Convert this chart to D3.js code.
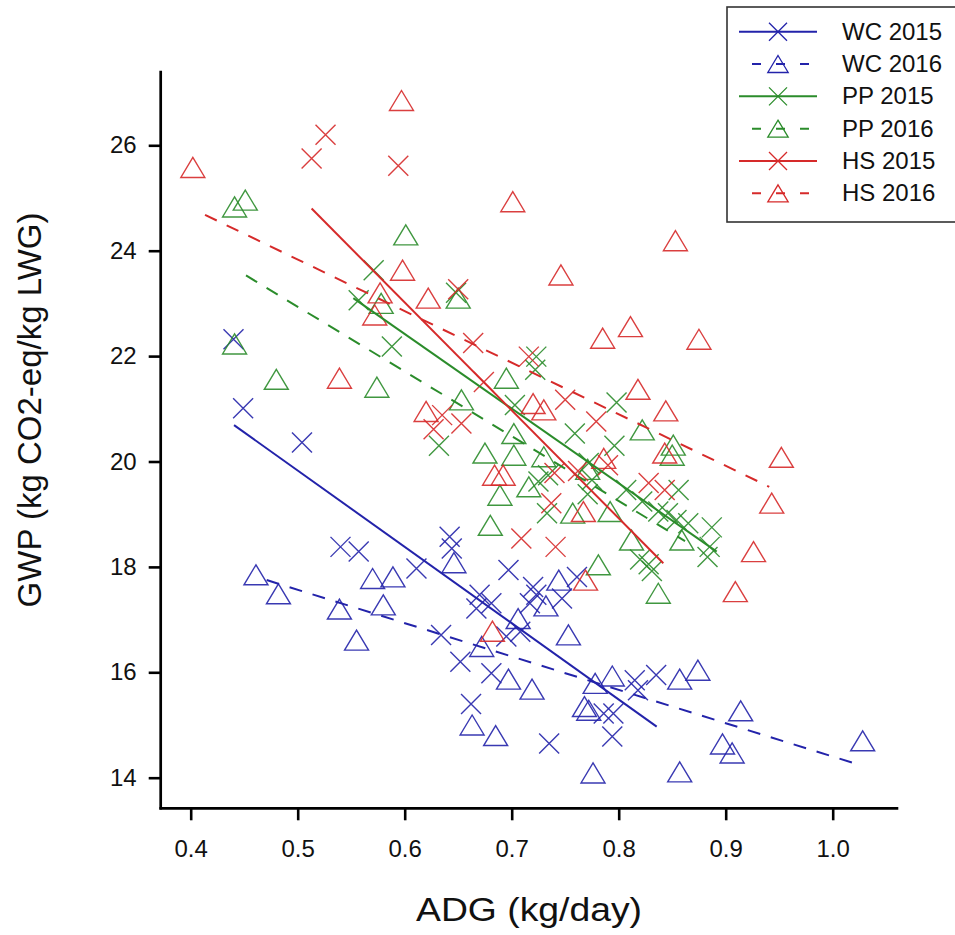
<!DOCTYPE html>
<html>
<head>
<meta charset="utf-8">
<script src="https://cdn.jsdelivr.net/npm/d3@7"></script>
<style>
  html, body { margin: 0; padding: 0; background: #fff; overflow: hidden; }
  svg { display: block; }
  text { font-family: "Liberation Sans", Arial, sans-serif; fill: #111; }
</style>
</head>
<body>
<svg id="chart" width="955" height="935"></svg>
<script>
// ---------------- data (ADG kg/day, GWP kg CO2-eq/kg LWG) ----------------
const wc2015 = [[0.440,22.32],[0.449,21.01],[0.504,20.36],[0.540,18.38],[0.557,18.29],[0.611,17.97],
  [0.634,16.71],[0.642,18.57],[0.644,18.35],[0.652,16.20],[0.662,15.40],[0.667,17.21],[0.670,17.47],
  [0.681,17.31],[0.681,15.98],[0.697,17.94],[0.695,16.68],[0.708,16.77],[0.717,17.31],[0.720,17.62],
  [0.723,17.47],[0.735,14.65],[0.747,17.40],[0.761,17.81],[0.786,15.22],[0.795,15.22],[0.794,14.78],
  [0.815,15.85],[0.818,15.66],[0.835,15.95]];
const wc2016 = [[0.461,17.85],[0.482,17.49],[0.539,17.20],[0.555,16.61],[0.570,17.78],[0.580,17.28],
  [0.589,17.81],[0.646,18.08],[0.663,15.00],[0.672,16.49],[0.685,14.80],[0.697,15.87],[0.706,17.02],
  [0.719,15.68],[0.732,17.26],[0.744,17.75],[0.753,16.71],[0.768,15.35],[0.772,15.28],[0.776,14.09],
  [0.778,15.79],[0.794,15.93],[0.857,15.87],[0.857,14.11],[0.874,16.04],[0.897,14.64],[0.906,14.47],
  [0.914,15.27],[1.028,14.70]];
const pp2015 = [[0.557,23.06],[0.571,23.63],[0.588,22.18],[0.648,23.20],[0.632,20.30],[0.723,21.99],
  [0.722,21.74],[0.703,21.07],[0.759,20.53],[0.798,21.12],[0.796,20.30],[0.772,19.97],[0.775,19.65],
  [0.771,19.38],[0.733,19.02],[0.725,19.62],[0.734,19.74],[0.807,19.46],[0.822,19.24],[0.837,19.05],
  [0.856,19.46],[0.846,19.02],[0.854,18.89],[0.865,18.83],[0.887,18.75],[0.885,18.38],[0.883,18.19],
  [0.820,18.14],[0.828,18.05],[0.831,17.92]];
const pp2016 = [[0.441,24.83],[0.451,24.96],[0.441,22.23],[0.480,21.56],[0.574,21.41],[0.578,23.00],
  [0.601,24.30],[0.650,23.10],[0.653,21.17],[0.675,20.16],[0.680,18.79],[0.689,19.36],[0.695,21.58],
  [0.702,20.53],[0.702,20.12],[0.716,19.52],[0.730,20.09],[0.757,19.02],[0.771,19.85],[0.781,18.04],
  [0.792,19.05],[0.812,18.51],[0.822,20.60],[0.837,17.50],[0.851,20.31],[0.850,20.12],[0.859,18.51]];
const hs2015 = [[0.513,25.75],[0.526,26.20],[0.594,25.61],[0.627,20.61],[0.635,20.88],[0.653,20.72],
  [0.650,23.27],[0.664,22.25],[0.674,21.51],[0.716,21.99],[0.750,21.17],[0.779,20.76],[0.762,19.82],
  [0.790,19.93],[0.740,19.78],[0.737,19.21],[0.709,18.54],[0.741,18.38],[0.828,19.59],[0.843,19.46]];
const hs2016 = [[0.402,25.58],[0.539,21.58],[0.572,22.78],[0.577,23.20],[0.597,26.85],[0.598,23.63],
  [0.620,20.95],[0.622,23.10],[0.682,16.78],[0.684,19.74],[0.692,19.74],[0.701,24.93],[0.720,21.10],
  [0.730,20.98],[0.746,23.54],[0.767,19.05],[0.769,17.75],[0.786,20.06],[0.785,22.34],[0.811,22.56],
  [0.818,21.37],[0.843,20.16],[0.844,20.96],[0.853,24.19],[0.875,22.32],[0.909,17.53],[0.926,18.29],
  [0.943,19.21],[0.952,20.08]];

// fitted regression lines (end points, data units)
const wc2015Fit = [[0.4405,20.69],[0.8355,14.97]];
const wc2016Fit = [[0.471,17.75],[1.0255,14.24]];
const pp2015Fit = [[0.552,23.10],[0.8916,18.29]];
const pp2016Fit = [[0.4517,23.53],[0.862,18.49]];
const hs2015Fit = [[0.513,24.80],[0.8417,18.07]];
const hs2016Fit = [[0.4134,24.68],[0.9407,19.52]];

const xTicks = [0.4,0.5,0.6,0.7,0.8,0.9,1.0];
const yTicks = [14,16,18,20,22,24,26];
const seriesNames = ["WC 2015","WC 2016","PP 2015","PP 2016","HS 2015","HS 2016"];

// ---------------- styling / layout ----------------
const BLUE = "#2323aa", GREEN = "#2b8c2b", RED = "#d62a2a";
const series = [
  {name: seriesNames[0], pts: wc2015, fit: wc2015Fit, color: BLUE,  marker: "x",   dash: null},
  {name: seriesNames[1], pts: wc2016, fit: wc2016Fit, color: BLUE,  marker: "tri", dash: "13,11"},
  {name: seriesNames[2], pts: pp2015, fit: pp2015Fit, color: GREEN, marker: "x",   dash: null},
  {name: seriesNames[3], pts: pp2016, fit: pp2016Fit, color: GREEN, marker: "tri", dash: "13,11"},
  {name: seriesNames[4], pts: hs2015, fit: hs2015Fit, color: RED,   marker: "x",   dash: null},
  {name: seriesNames[5], pts: hs2016, fit: hs2016Fit, color: RED,   marker: "tri", dash: "13,11"}
];

const svg = d3.select("#chart");
const plotL = 160.7, plotR = 898.3, plotT = 70.7, plotB = 808.3;
// x: 0.4 -> 190.7, 1.0 -> 832.7 ; y: 14 -> 777.7, 26 -> 145.3
const x = d3.scaleLinear().domain([0.4, 1.0]).range([190.7, 832.7]);
const y = d3.scaleLinear().domain([14, 26]).range([777.7, 145.3]);

function markerPath(type, s) {
  if (type === "x") {
    const h = s / 2;
    return `M${-h},${-h}L${h},${h}M${-h},${h}L${h},${-h}`;
  }
  const w = s * 0.6, hh = s * 0.5;
  return `M0,${-hh}L${w},${hh}L${-w},${hh}Z`;
}

const plot = svg.append("g");
const line = d3.line().x(d => x(d[0])).y(d => y(d[1]));

series.forEach(s => {
  const g = plot.append("g");
  g.selectAll("path.pt").data(s.pts).enter().append("path")
    .attr("class", "pt")
    .attr("transform", d => `translate(${x(d[0])},${y(d[1])})`)
    .attr("d", markerPath(s.marker, 20))
    .attr("fill", "none")
    .attr("stroke", s.color)
    .attr("stroke-width", 1.4)
    .attr("stroke-opacity", 0.9);
});
series.forEach(s => {
  plot.append("path")
    .datum(s.fit)
    .attr("d", line)
    .attr("fill", "none")
    .attr("stroke", s.color)
    .attr("stroke-width", 2)
    .attr("stroke-dasharray", s.dash);
});

// ---------------- axes ----------------
const xAxis = d3.axisBottom(x).tickValues(xTicks).tickFormat(d3.format(".1f")).tickSize(12).tickSizeOuter(0).tickPadding(20);
const yAxis = d3.axisLeft(y).tickValues(yTicks).tickFormat(d3.format("d")).tickSize(12).tickSizeOuter(0).tickPadding(12);

const gx = svg.append("g").attr("transform", `translate(0,${plotB})`).call(xAxis);
const gy = svg.append("g").attr("transform", `translate(${plotL},0)`).call(yAxis);
[gx, gy].forEach(g => {
  g.select(".domain").remove();
  g.selectAll(".tick line").attr("stroke", "#000").attr("stroke-width", 2.6);
  g.selectAll(".tick text").style("font-family", '"Liberation Sans", Arial, sans-serif')
    .style("font-size", "24px").attr("fill", "#222");
});
// axis lines
svg.append("line").attr("x1", plotL).attr("x2", plotL).attr("y1", plotT).attr("y2", plotB + 1.3)
  .attr("stroke", "#000").attr("stroke-width", 2.7);
svg.append("line").attr("x1", plotL - 1.3).attr("x2", plotR).attr("y1", plotB).attr("y2", plotB)
  .attr("stroke", "#000").attr("stroke-width", 2.7);

// titles
svg.append("text").attr("x", 529).attr("y", 921)
  .attr("text-anchor", "middle").style("font-size", "34px")
  .attr("textLength", 226).attr("lengthAdjust", "spacingAndGlyphs").text("ADG (kg/day)");
svg.append("text").attr("transform", "translate(41,410) rotate(-90)")
  .attr("text-anchor", "middle").style("font-size", "33px").text("GWP (kg CO2-eq/kg LWG)");

// ---------------- legend ----------------
const lg = svg.append("g");
lg.append("rect").attr("x", 727).attr("y", 7).attr("width", 240).attr("height", 215)
  .attr("fill", "#fff").attr("stroke", "#333").attr("stroke-width", 1.6);
const rowY = d3.scalePoint().domain(seriesNames).range([31.7, 193.3]);
series.forEach(s => {
  const cy = rowY(s.name);
  if (s.dash) {
    lg.append("line").attr("x1", 752).attr("x2", 810).attr("y1", cy).attr("y2", cy)
      .attr("stroke", s.color).attr("stroke-width", 2).attr("stroke-dasharray", "9,15");
  } else {
    lg.append("line").attr("x1", 739).attr("x2", 817).attr("y1", cy).attr("y2", cy)
      .attr("stroke", s.color).attr("stroke-width", 2);
  }
  lg.append("path").attr("transform", `translate(778,${cy})`)
    .attr("d", markerPath(s.marker, s.marker === "x" ? 18 : 17))
    .attr("fill", "none").attr("stroke", s.color).attr("stroke-width", 1.3);
  lg.append("text").attr("x", 842).attr("y", cy + 8).style("font-size", "24px").text(s.name);
});
</script>
</body>
</html>
